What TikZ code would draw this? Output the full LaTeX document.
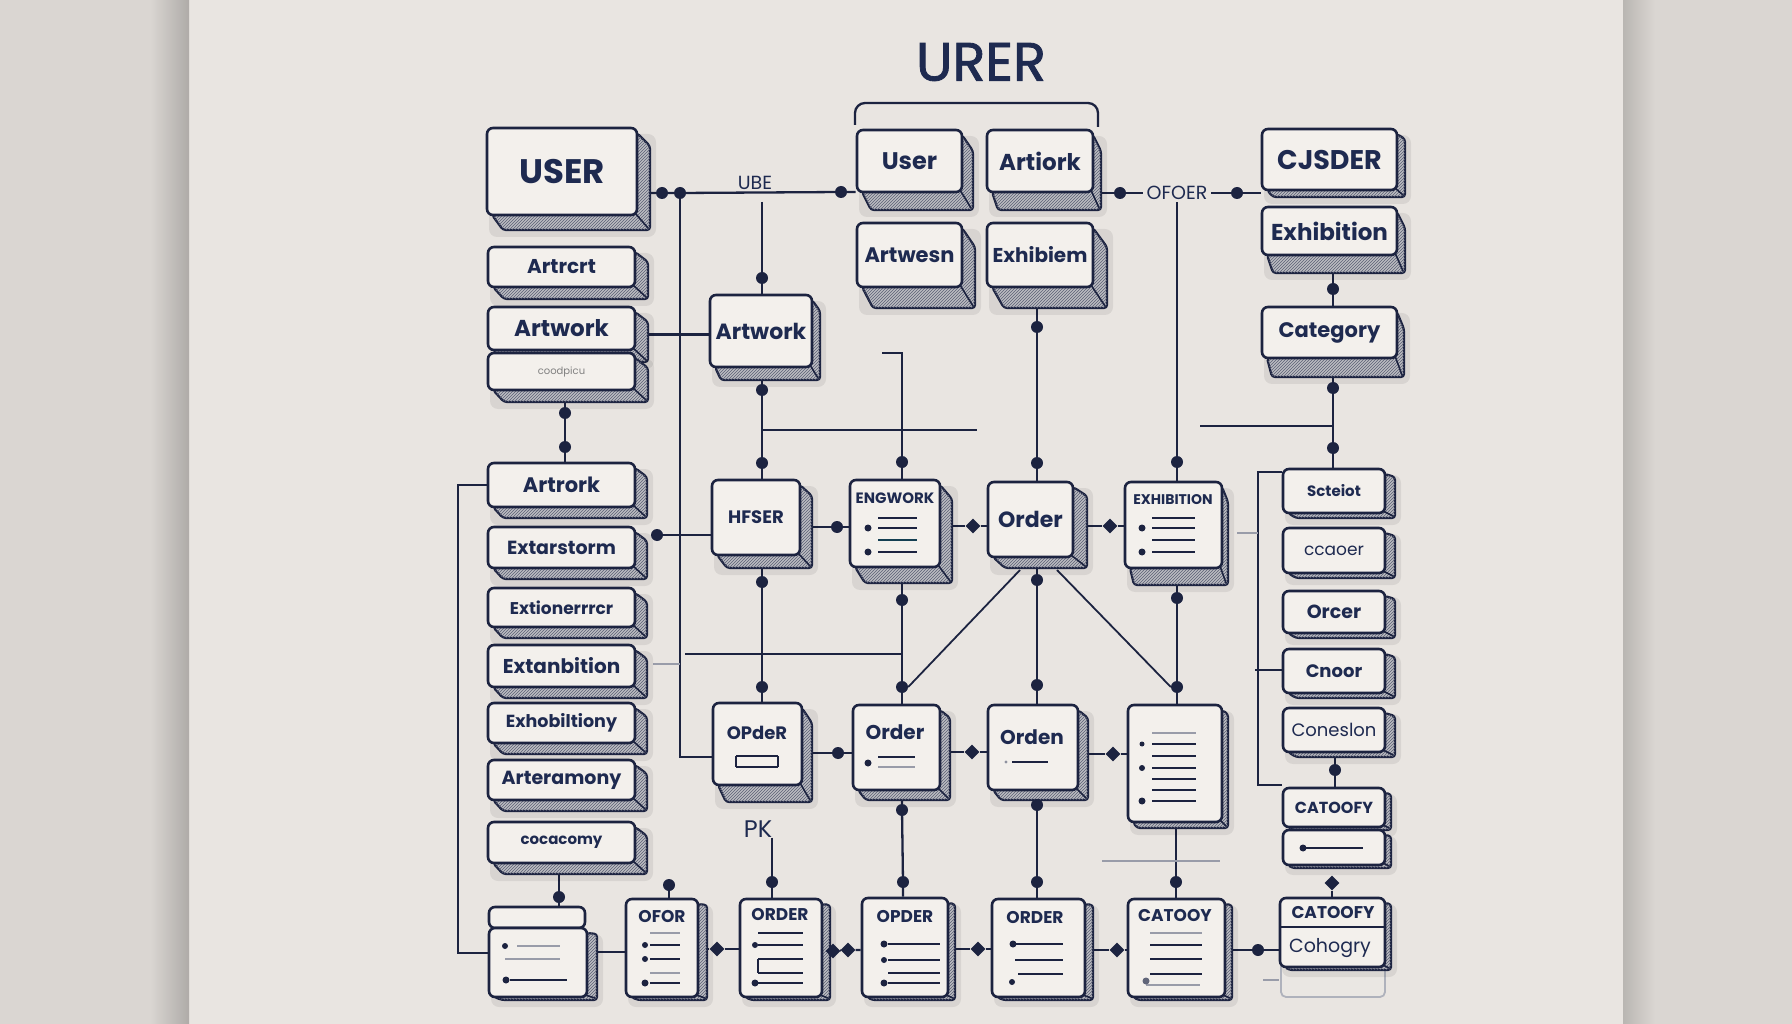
\documentclass[tikz,border=0pt]{standalone}
\usepackage{fontspec}
\setmainfont{Poppins}
\newfontfamily\titlefont{Poppins}[FakeBold=1.6]
\usetikzlibrary{patterns,shapes.geometric,calc}
\definecolor{navy}{HTML}{1C2340}
\definecolor{ink}{HTML}{1E2A50}
\definecolor{panel}{HTML}{E9E5E1}
\definecolor{side}{HTML}{DAD6D2}
\definecolor{boxfill}{HTML}{F3F0EC}
\definecolor{hatchbase}{HTML}{BDBDC2}
\definecolor{hatchline}{HTML}{5A5F75}
\pgfdeclarelayer{bg}\pgfdeclarelayer{wires}\pgfsetlayers{bg,wires,main}
\newcommand\fsz[1]{\fontsize{#1}{#1}\selectfont}
\newcommand\xbox[8]{%
 \pgfmathsetmacro\xbW{#4-#2}\pgfmathsetmacro\xbH{#5-#3}%
 \pgfmathsetmacro\xbX{(#2+#4)/2}\pgfmathsetmacro\xbY{(#3+#5)/2}%
 \fill[black,opacity=0.07,rounded corners=8pt] (#2+2,#3+6) rectangle (#4+#6+6,#5+#7+7);
 \path[xextr] (#2+5,#5) -- (#2+#6+3,#5+#7) -- (#4+#6,#5+#7) -- (#4+#6,#3+#7+3) -- (#4,#3+5) -- cycle;
 \draw[xcorner] (#4-2,#5-2) -- (#4+#6-2,#5+#7-2);
 \node[xface,minimum width=\xbW pt,minimum height=\xbH pt] (#1) at (\xbX,\xbY) {#8};}
\begin{document}
\begin{tikzpicture}[x=1pt,y=-1pt,
  xface/.style={draw=navy,line width=2.6pt,rounded corners=6pt,fill=boxfill,text=ink,inner sep=0pt,font=\bfseries},
  xextr/.style={draw=navy,line width=2.2pt,line join=round,rounded corners=3pt,fill=hatchbase,postaction={pattern=north east lines,pattern color=hatchline}},
  xcorner/.style={draw=navy,line width=1.6pt,line cap=round},
  conn/.style={draw=navy,line width=2.3pt},
  xfaint/.style={draw=navy!45,line width=2pt},
  xdot/.style={circle,fill=navy,inner sep=0pt,minimum size=12pt},
  xdia/.style={diamond,fill=navy,inner sep=0pt,minimum width=15pt,minimum height=15pt},
  lbl/.style={text=ink,inner sep=0pt},
  listl/.style={draw=navy,line width=2.6pt},
  listf/.style={draw=navy!45,line width=2.4pt}]
\begin{pgfonlayer}{bg}
\fill[side] (0,0) rectangle (1792,1024);
\fill[panel] (189,0) rectangle (1623,1024);
\shade[left color=side, right color=side!80!black] (150,0) rectangle (189,1024);
\shade[left color=side!85!black, right color=side] (1623,0) rectangle (1655,1024);
\end{pgfonlayer}
\useasboundingbox (0,0) rectangle (1792,1024);

% title
\node[lbl,font=\titlefont\fsz{54}] (title) at (981,62) {URER};

% left column
\xbox{l1}{487}{128}{637}{215}{13}{15}{\fsz{34}USER}
\xbox{l2}{488}{247}{635}{287}{13}{12}{\fsz{20}Artrcrt}
\xbox{l3}{488}{307}{635}{350}{13}{12}{\fsz{23}Artwork}
\xbox{l4}{488}{353}{635}{390}{13}{12}{\mdseries\fsz{10}\color{gray}coodpicu}
\xbox{l5}{488}{463}{635}{507}{12}{11}{\fsz{21}Artrork}
\xbox{l6}{488}{527}{635}{568}{12}{11}{\fsz{19}Extarstorm}
\xbox{l7}{488}{588}{635}{627}{12}{11}{\fsz{17}Extionerrrcr}
\xbox{l8}{488}{645}{635}{687}{12}{11}{\fsz{20}Extanbition}
\xbox{l9}{488}{703}{635}{743}{12}{11}{\fsz{17.5}Exhobiltiony}
\xbox{l10}{488}{760}{635}{800}{12}{11}{\fsz{19}Arteramony}
\xbox{l11}{488}{822}{635}{863}{12}{11}{\fsz{15}cocacomy}

% top middle
\draw[conn,rounded corners=10pt] (855,125) -- (855,103) -- (1098,103) -- (1098,127);
\xbox{tUser}{857}{130}{962}{192}{11}{18}{\fsz{24}User}
\xbox{tArt}{987}{130}{1093}{192}{8}{18}{\fsz{23}Artiork}
\xbox{tAw}{857}{223}{962}{287}{13}{21}{\fsz{21}Artwesn}
\xbox{tExh}{987}{223}{1093}{287}{14}{21}{\fsz{20}Exhibiem}

% top right
\xbox{rCJ}{1262}{129}{1397}{190}{8}{7}{\fsz{27}CJSDER}
\xbox{rExh}{1262}{207}{1397}{255}{8}{18}{\fsz{23}Exhibition}
\xbox{rCat}{1262}{307}{1397}{358}{7}{19}{\fsz{21}Category}

% middle
\xbox{mArt}{710}{295}{812}{367}{8}{13}{\fsz{22}Artwork}
\xbox{hf}{712}{480}{800}{555}{12}{13}{\fsz{18}HFSER}
\xbox{eng}{850}{480}{940}{567}{12}{16}{}
\node[lbl,font=\bfseries\fsz{15}] at (895,498) {ENGWORK};
\draw[listl] (878,518) -- (917,518) (878,528) -- (917,528) (878,552) -- (917,552);
\draw[listl,draw=navy!70!teal] (878,540) -- (917,540);
\fill[navy] (868,528) circle (3.5) (868,552) circle (3.5);
\xbox{ord}{988}{482}{1073}{557}{14}{11}{\fsz{22}Order}
\xbox{exh}{1125}{482}{1222}{568}{6}{17}{}
\node[lbl,font=\bfseries\fsz{14}] at (1173,500) {EXHIBITION};
\draw[listl] (1152,518) -- (1195,518) (1152,528) -- (1195,528) (1152,540) -- (1195,540) (1152,552) -- (1195,552);
\fill[navy] (1142,528) circle (3.5) (1142,552) circle (3.5);

% row 2
\xbox{mP}{713}{703}{802}{785}{10}{17}{}
\node[lbl,font=\bfseries\fsz{18}] at (757,733) {OPdeR};
\draw[listl] (736,756) -- (778,756) (736,767) -- (778,767);
\draw[navy,line width=1.2pt] (736,756) -- (736,767) (778,756) -- (778,767);
\xbox{q}{853}{705}{940}{790}{10}{10}{}
\node[lbl,font=\bfseries\fsz{20}] at (895,732) {Order};
\draw[listl] (878,757) -- (915,757);
\draw[listf] (878,767) -- (915,767);
\fill[navy] (868,763) circle (3.5);
\xbox{n}{988}{705}{1078}{790}{10}{10}{}
\node[lbl,font=\bfseries\fsz{20}] at (1032,737) {Orden};
\draw[listl] (1012,762) -- (1048,762);
\fill[navy!50] (1006,762) circle (1.6);
\xbox{t}{1128}{705}{1222}{822}{6}{6}{}
\draw[listf] (1152,733) -- (1196,733);
\draw[listl] (1152,744) -- (1196,744) (1152,756) -- (1196,756) (1152,768) -- (1196,768) (1152,779) -- (1196,779) (1152,790) -- (1196,790) (1152,801) -- (1196,801);
\fill[navy] (1142,744) circle (2.5) (1142,768) circle (3) (1142,801) circle (3.5);

% right column
\xbox{s1}{1283}{469}{1385}{513}{10}{5}{\fsz{15}Scteiot}
\xbox{s2}{1283}{528}{1385}{573}{10}{5}{\mdseries\fsz{17}ccaoer}
\xbox{s3}{1283}{591}{1385}{633}{10}{5}{\fsz{19}Orcer}
\xbox{s4}{1283}{649}{1385}{693}{10}{5}{\fsz{18}Cnoor}
\xbox{s5}{1283}{708}{1385}{752}{10}{5}{\mdseries\fsz{18}Coneslon}
\xbox{s6}{1283}{788}{1385}{827}{6}{3}{\fsz{16}CATOOFY}
\xbox{s7}{1283}{830}{1385}{865}{6}{3}{}
\draw[listl] (1303,848) -- (1363,848);
\fill[navy] (1303,848) circle (3.5);

% bottom row
\node[xface,minimum width=96pt,minimum height=21pt] (bLh) at (537,917.5) {};
\xbox{bLb}{489}{928}{587}{997}{10}{3}{}
\draw[listf] (517,946) -- (560,946) (505,959) -- (560,959);
\draw[listl] (510,980) -- (567,980);
\fill[navy] (505,946) circle (3) (506,980) circle (3.5);
\xbox{b2}{626}{899}{698}{997}{9}{3}{}
\node[lbl,font=\bfseries\fsz{17}] at (662,917) {OFOR};
\draw[listf] (650,933) -- (680,933) (650,973) -- (680,973);
\draw[listl] (650,945) -- (680,945) (650,959) -- (680,959) (650,983) -- (680,983);
\fill[navy] (645,945) circle (3) (645,959) circle (3) (645,983) circle (3.5);
\xbox{b3}{740}{899}{822}{997}{8}{3}{}
\node[lbl,font=\bfseries\fsz{17}] at (780,915) {ORDER};
\draw[listl] (758,933) -- (803,933) (758,945) -- (803,945) (758,959) -- (803,959) (758,973) -- (803,973) (758,983) -- (803,983);
\draw[navy,line width=1.4pt] (758,959) -- (758,973);
\fill[navy] (755,945) circle (3) (755,983) circle (3.5);
\xbox{b4}{862}{898}{948}{997}{7}{3}{}
\node[lbl,font=\bfseries\fsz{17}] at (905,917) {OPDER};
\draw[listl] (888,944) -- (940,944) (888,960) -- (940,960) (888,973) -- (940,973) (888,983) -- (940,983);
\fill[navy] (884,944) circle (3.5) (884,960) circle (3) (884,983) circle (3.5);
\xbox{b5}{992}{899}{1085}{997}{8}{3}{}
\node[lbl,font=\bfseries\fsz{17}] at (1035,918) {ORDER};
\draw[listl] (1015,944) -- (1063,944) (1015,960) -- (1063,960) (1018,974) -- (1063,974);
\fill[navy] (1013,944) circle (3.5) (1012,982) circle (3);
\xbox{b6}{1128}{899}{1225}{997}{7}{3}{}
\node[lbl,font=\bfseries\fsz{17}] at (1175,916) {CATOOY};
\draw[listf] (1150,933) -- (1202,933) (1146,985) -- (1200,985);
\draw[listl] (1150,945) -- (1202,945) (1150,959) -- (1202,959) (1150,974) -- (1202,974);
\fill[navy!70] (1146,981) circle (3.5);
\draw[navy!35,line width=1.8pt,fill=boxfill!92!gray,rounded corners=5pt] (1281,962) rectangle (1385,997);
\xbox{bR}{1280}{898}{1385}{967}{6}{3}{}
\draw[navy,line width=2.4pt] (1280,927) -- (1385,927);
\node[lbl,font=\bfseries\fsz{17}] at (1333,913) {CATOOFY};
\node[lbl,font=\fsz{19}] at (1330,948) {Cohogry};

% labels
\node[lbl,font=\fsz{19}] (ube) at (755,183) {UBE};
\node[lbl,fill=panel,inner xsep=4pt,inner ysep=2pt,font=\fsz{19}] (lblOrd) at (1177,193) {OFOER};
\node[lbl,font=\fsz{24}] (pk) at (758,829) {PK};

% dots
\node[xdot] (dU1) at (662,193) {};
\node[xdot] (dU2) at (680,193) {};
\node[xdot] (dUr) at (841,192) {};
\node[xdot] (dA1) at (762,278) {};
\node[xdot] (dA2) at (762,390) {};
\node[xdot] (dH1) at (762,463) {};
\node[xdot] (dL1) at (565,413) {};
\node[xdot] (dL2) at (565,447) {};
\node[xdot] (dLx) at (657,535) {};
\node[xdot] (dHE) at (837,527) {};
\node[xdot] (dE1) at (902,462) {};
\node[xdia] (dEO) at (973,526) {};
\node[xdot] (dO1) at (1037,463) {};
\node[xdia] (dOX) at (1110,526) {};
\node[xdot] (dX1) at (1177,462) {};
\node[xdot] (dOrL) at (1120,193) {};
\node[xdot] (dOrR) at (1237,193) {};
\node[xdot] (dEx) at (1037,327) {};
\node[xdot] (dR1) at (1333,289) {};
\node[xdot] (dR2) at (1333,388) {};
\node[xdot] (dR3) at (1333,448) {};
\node[xdot] (dH2) at (762,582) {};
\node[xdot] (dE2) at (902,600) {};
\node[xdot] (dO2) at (1037,580) {};
\node[xdot] (dX2) at (1177,598) {};
\node[xdot] (dP1) at (762,687) {};
\node[xdot] (dQ1) at (902,687) {};
\node[xdot] (dN1) at (1037,685) {};
\node[xdot] (dT1) at (1177,687) {};
\node[xdot] (dPQ) at (838,753) {};
\node[xdia] (dQN) at (972,752) {};
\node[xdia] (dNT) at (1113,754) {};
\node[xdot] (dQ2) at (902,810) {};
\node[xdot] (dN2) at (1037,805) {};
\node[xdot] (dB0) at (559,897) {};
\node[xdot] (dB1) at (669,885) {};
\node[xdot] (dB2) at (772,882) {};
\node[xdot] (dB3) at (903,882) {};
\node[xdot] (dB4) at (1037,882) {};
\node[xdot] (dB5) at (1176,882) {};
\node[xdia] (dB12) at (717,949) {};
\node[xdia] (dB23a) at (833,951) {};
\node[xdia] (dB23b) at (848,950) {};
\node[xdia] (dB34) at (978,949) {};
\node[xdia] (dB45) at (1117,950) {};
\node[xdot] (dB56) at (1258,950) {};
\node[xdot] (dRc) at (1335,770) {};
\node[xdia] (dRd) at (1332,883) {};

% free-end coordinates
\coordinate (cUBE) at (762,202);
\coordinate (c430) at (977,430);
\coordinate (cL1) at (882,353);
\coordinate (cL2) at (902,353);
\coordinate (cLeft) at (458,953);
\coordinate (c426) at (1200,426);
\coordinate (cBt) at (1258,472);
\coordinate (cBb) at (1258,785);
\coordinate (cBm) at (1255,670);
\coordinate (cSt) at (1237,533);
\coordinate (cSt2) at (1258,533);
\coordinate (c654) at (685,654);
\coordinate (cF1) at (653,664);
\coordinate (cDg1) at (1020,570);
\coordinate (cDg2) at (1057,570);
\coordinate (cB0) at (597,952);
\coordinate (cH1) at (1102,861);
\coordinate (cH2) at (1220,861);
\coordinate (cR1) at (1263,980);

\begin{pgfonlayer}{wires}
\draw[conn] (l1.east |- dU1) -- (dU1) -- (dU2) -- (dUr) -- (dUr -| tUser.west);
\draw[conn] (dU2) |- ([yshift=-13pt]mP.west);
\draw[conn] (cUBE) -- (dA1) -- (dA1 |- mArt.north);
\draw[conn] ([yshift=-6pt]l3.east) -- ([yshift=-6pt]l3.east -| mArt.west);
\draw[conn] (dA2 |- mArt.south) -- (dA2) -- (dH1) -- (dH1 |- hf.north);
\draw[conn] (dA2 |- c430) -- (c430);
\draw[conn,line width=1.6pt] (cL1) -- (cL2) -- (dE1);
\draw[conn] (dE1) -- (dE1 |- eng.north);
\draw[conn] (dL1 |- l4.south) -- (dL1) -- (dL2) -- (dL2 |- l5.north);
\draw[conn] (l5.west) -| (cLeft) -- (cLeft -| bLb.west);
\draw[conn] (dLx) -- (dLx -| hf.west);
\draw[conn] (hf.east |- dHE) -- (dHE) -- (dHE -| eng.west);
\draw[conn] (eng.east |- dEO) -- (dEO) -- (dEO -| ord.west);
\draw[conn] (ord.east |- dOX) -- (dOX) -- (dOX -| exh.west);
\draw[conn] (dEx |- tExh.south) -- (dEx) -- (dO1) -- (dO1 |- ord.north);
\draw[conn] (lblOrd.south) -- (dX1) -- (dX1 |- exh.north);
\draw[conn] (tArt.east |- dOrL) -- (dOrL) -- (dOrR) -- (dOrR -| rCJ.west);
\draw[conn] (dR1 |- rExh.south) -- (dR1) -- (dR1 |- rCat.north);
\draw[conn] (dR2 |- rCat.south) -- (dR2) -- (dR3) -- (dR3 |- s1.north);
\draw[conn] (c426) -- (c426 -| dR2);
\draw[conn] (cBt -| s1.west) -- (cBt) -- (cBb) -- (cBb -| s6.west);
\draw[conn] (cBm) -- (cBm -| s4.west);
\draw[xfaint] (cSt) -- (cSt2);
\draw[conn] (dRc |- s5.south) -- (dRc) -- (dRc |- s6.north);
\draw[conn] (dRd) -- (dRd |- bR.north);
\draw[conn] (dH2 |- hf.south) -- (dH2) -- (dP1) -- (dP1 |- mP.north);
\draw[conn] (dE2 |- eng.south) -- (dE2) -- (dQ1) -- (dQ1 |- q.north);
\draw[conn] (dO2 |- ord.south) -- (dO2) -- (dN1) -- (dN1 |- n.north);
\draw[conn] (dX2 |- exh.south) -- (dX2) -- (dT1) -- (dT1 |- t.north);
\draw[conn] (c654) -- (c654 -| dE2);
\draw[xfaint] (cF1) -- (cF1 -| dU2);
\draw[conn,line width=1.8pt] (cDg1) -- (dQ1.east);
\draw[conn,line width=1.8pt] (cDg2) -- (dT1.west);
\draw[conn] (mP.east |- dPQ) -- (dPQ) -- (dPQ -| q.west);
\draw[conn] (q.east |- dQN) -- (dQN) -- (dQN -| n.west);
\draw[conn] (n.east |- dNT) -- (dNT) -- (dNT -| t.west);
\draw[conn] (dQ2 |- q.south) -- (dQ2) -- (dB3) -- (dB3 |- b4.north);
\draw[conn] (dN2 |- n.south) -- (dN2) -- (dB4) -- (dB4 |- b5.north);
\draw[conn] (dB5 |- t.south) -- (dB5) -- (dB5 |- b6.north);
\draw[conn] (dB2 |- pk.south) -- (dB2) -- (dB2 |- b3.north);
\draw[conn] (dB1) -- (dB1 |- b2.north);
\draw[conn] (dB0 |- l11.south) -- (dB0) -- (dB0 |- bLh.north);
\draw[xfaint] (cH1) -- (cH2);
\draw[conn] (cB0) -- (cB0 -| b2.west);
\draw[conn] (b2.east |- dB12) -- (dB12) -- (dB12 -| b3.west);
\draw[conn] (b3.east |- dB23a) -- (dB23a) -- (dB23b) -- (dB23b -| b4.west);
\draw[conn] (b4.east |- dB34) -- (dB34) -- (dB34 -| b5.west);
\draw[conn] (b5.east |- dB45) -- (dB45) -- (dB45 -| b6.west);
\draw[conn] (b6.east |- dB56) -- (dB56) -- (dB56 -| bR.west);
\draw[xfaint] (cR1) -- (cR1 -| bR.west);
\end{pgfonlayer}
\end{tikzpicture}
\end{document}
